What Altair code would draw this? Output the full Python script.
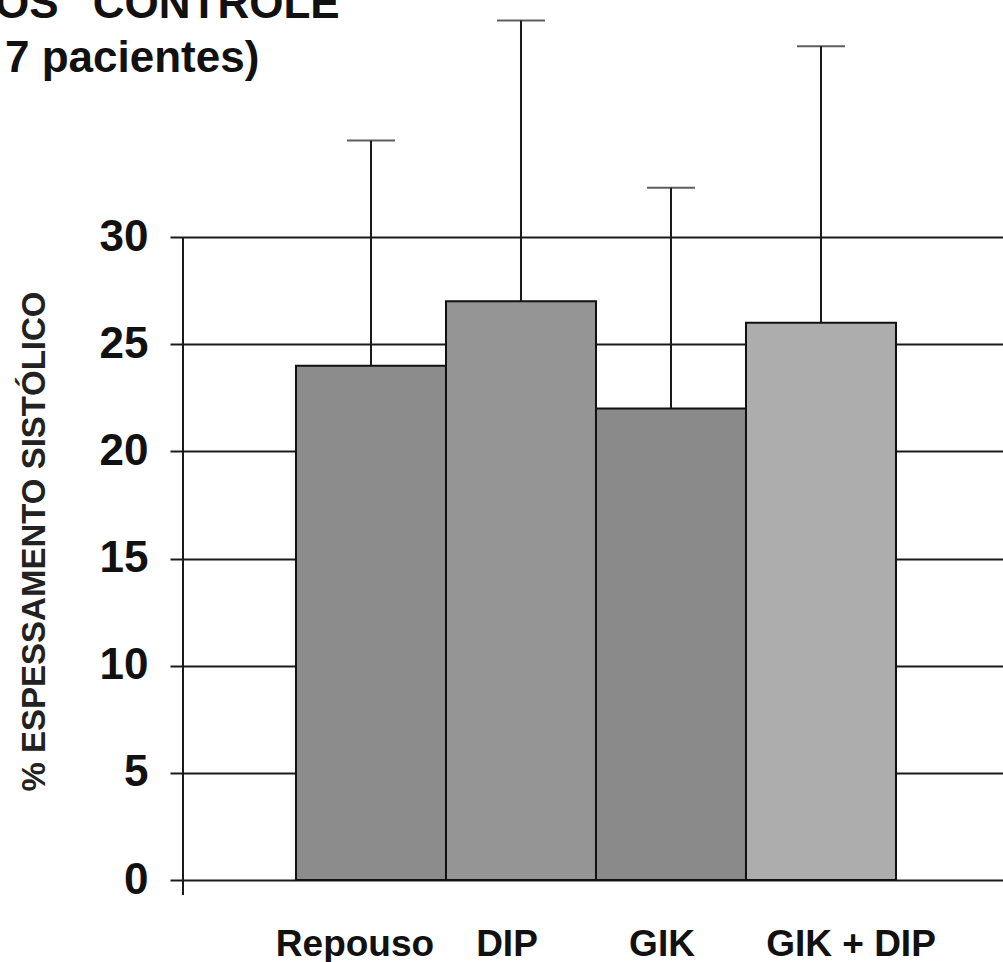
import altair as alt
import pandas as pd

categories = ["Repouso", "DIP", "GIK", "GIK + DIP"]
means = [24, 27, 22, 26]
upper = [34.5, 40.1, 32.3, 38.9]
colors = ["#8c8c8c", "#959595", "#8a8a8a", "#adadad"]
y_ticks = [0, 5, 10, 15, 20, 25, 30]
title_lines = ["OS \u201cCONTROLE\u201d", "7 pacientes)"]
y_title = "% ESPESSAMENTO  SISTÓLICO"

df = pd.DataFrame({"cat": categories, "mean": means, "upper": upper, "color": colors})

FONT = "Liberation Sans"

xscale = alt.Scale(domain=categories, paddingInner=0, paddingOuter=0.7333, align=0.5136)
yscale = alt.Scale(domain=[0, 41.06], nice=False, zero=True)

label_offset = {
    "condition": [
        {"test": "datum.value === 'Repouso'", "value": -16},
        {"test": "datum.value === 'DIP'", "value": -14},
        {"test": "datum.value === 'GIK'", "value": -9},
        {"test": "datum.value === 'GIK + DIP'", "value": 30},
    ],
    "value": 0,
}

xaxis = alt.Axis(title=None, labelAngle=0, ticks=False, tickSize=0, domain=False, grid=False,
                 labelFont=FONT, labelFontWeight="bold", labelFontSize=37,
                 labelColor="#111", labelPadding=75, labelBaseline="alphabetic",
                 labelOffset=label_offset)
yaxis = alt.Axis(values=y_ticks, title=y_title, grid=True, gridColor="#1a1a1a", gridWidth=2,
                 gridOpacity=1,
                 tickColor="#1a1a1a", tickWidth=2, tickSize=13, domain=False,
                 labelFont=FONT, labelFontWeight="bold", labelFontSize=44, labelColor="#111",
                 labelPadding=22,
                 titleFont=FONT, titleFontWeight="bold", titleFontSize=33, titleColor="#222",
                 titleAngle=270, titleX=-149, titleY=541, titleAlign="center",
                 titleBaseline="middle")

base = alt.Chart(df)

bars = base.mark_bar(stroke="#111", strokeWidth=2).encode(
    x=alt.X("cat:N", scale=xscale, axis=xaxis, sort=categories),
    y=alt.Y("mean:Q", scale=yscale, axis=yaxis),
    fill=alt.Fill("color:N", scale=None),
)

err = base.mark_rule(color="#1a1a1a", strokeWidth=2).encode(
    x=alt.X("cat:N", scale=xscale, sort=categories, axis=xaxis),
    y=alt.Y("mean:Q", scale=yscale, axis=yaxis),
    y2="upper:Q",
)

caps = base.mark_tick(color="#1a1a1a", thickness=2, size=48, orient="horizontal").encode(
    x=alt.X("cat:N", scale=xscale, sort=categories, axis=xaxis),
    y=alt.Y("upper:Q", scale=yscale, axis=yaxis),
)

domain_line = alt.Chart(pd.DataFrame({"v": [30]})).mark_rule(color="#1a1a1a", strokeWidth=2).encode(
    x=alt.value(0), y=alt.Y("v:Q", scale=yscale, axis=yaxis), y2=alt.value(895)
)

t1 = alt.Chart(pd.DataFrame({"t": [title_lines[0]]})).mark_text(
    font=FONT, fontWeight="bold", fontSize=44, align="left", baseline="alphabetic", color="#111"
).encode(text="t:N", x=alt.value(-188), y=alt.value(18))

t2 = alt.Chart(pd.DataFrame({"t": [title_lines[1]]})).mark_text(
    font=FONT, fontWeight="bold", fontSize=44, align="left", baseline="alphabetic", color="#111"
).encode(text="t:N", x=alt.value(-178), y=alt.value(72))

chart = alt.layer(bars, err, caps, domain_line, t1, t2).properties(
    width=820, height=880,
    background="white",
    autosize=alt.AutoSizeParams(type="none"),
    padding={"left": 183, "top": 0, "right": 0, "bottom": 82},
).configure_view(stroke=None)

chart.save("out.html", embed_options={"renderer": "svg", "actions": False})
